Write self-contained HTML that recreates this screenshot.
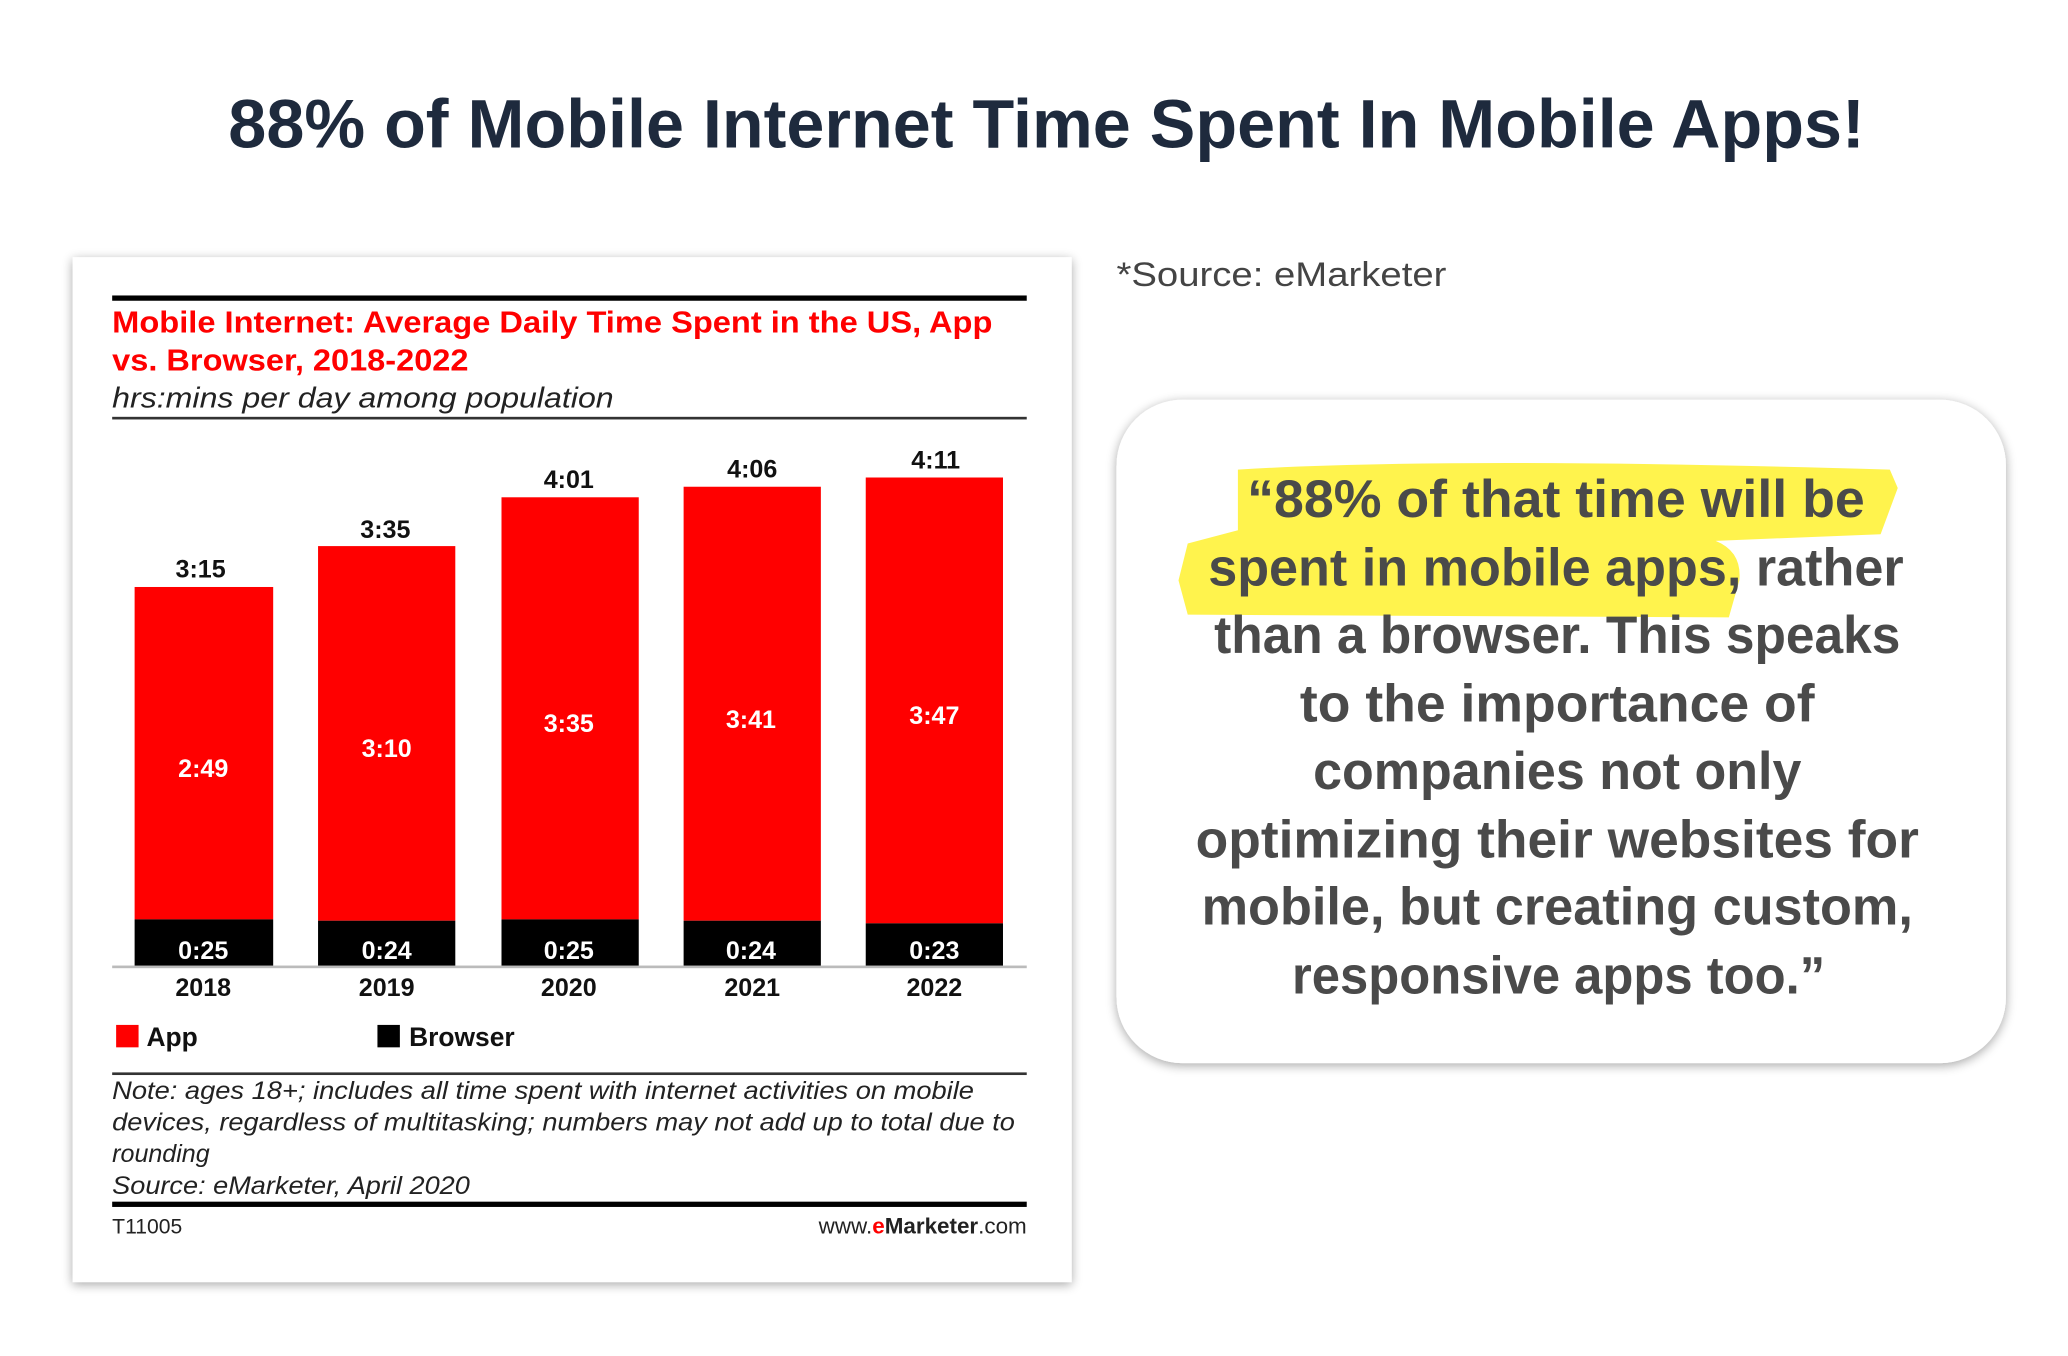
<!DOCTYPE html>
<html><head><meta charset="utf-8"><style>
html,body{margin:0;padding:0;background:#fff;width:2068px;height:1356px;overflow:hidden}
svg{display:block}
</style></head><body>
<svg width="2068" height="1356" viewBox="0 0 1567 1028" preserveAspectRatio="none" xmlns="http://www.w3.org/2000/svg">
<defs>
<filter id="sh" x="-10%" y="-10%" width="120%" height="120%"><feGaussianBlur in="SourceAlpha" stdDeviation="4"/><feOffset dx="0" dy="2"/><feComponentTransfer><feFuncA type="linear" slope="0.35"/></feComponentTransfer><feMerge><feMergeNode/><feMergeNode in="SourceGraphic"/></feMerge></filter>
</defs>
<rect width="1567" height="1028" fill="#fff"/>
<text x="793" y="112" text-anchor="middle" font-family="Liberation Sans, sans-serif" font-weight="bold" font-size="52" fill="#1e2a3d" textLength="1240" lengthAdjust="spacingAndGlyphs">88% of Mobile Internet Time Spent In Mobile Apps!</text>

<rect x="55" y="195" width="757" height="777" fill="#fff" filter="url(#sh)"/>
<rect x="85" y="224" width="693" height="4" fill="#000"/>
<g font-family="Liberation Sans, sans-serif">
<text x="85" y="252" font-weight="bold" font-size="23" fill="#ff0000" textLength="667" lengthAdjust="spacingAndGlyphs">Mobile Internet: Average Daily Time Spent in the US, App</text>
<text x="85" y="281" font-weight="bold" font-size="23" fill="#ff0000" textLength="270" lengthAdjust="spacingAndGlyphs">vs. Browser, 2018-2022</text>
<text x="85" y="309" font-style="italic" font-size="22" fill="#222" textLength="380" lengthAdjust="spacingAndGlyphs">hrs:mins per day among population</text>
<rect x="85" y="316" width="693" height="2" fill="#333"/>

<g fill="#ff0000">
<rect x="102" y="445" width="105" height="252"/>
<rect x="241" y="414" width="104" height="284"/>
<rect x="380" y="377" width="104" height="320"/>
<rect x="518" y="369" width="104" height="329"/>
<rect x="656" y="362" width="104" height="338"/>
</g>
<g fill="#000">
<rect x="102" y="697" width="105" height="36"/>
<rect x="241" y="698" width="104" height="35"/>
<rect x="380" y="697" width="104" height="36"/>
<rect x="518" y="698" width="104" height="35"/>
<rect x="656" y="700" width="104" height="33"/>
</g>
<rect x="85" y="732" width="693" height="2" fill="#bbb"/>
<g font-weight="bold" font-size="19" text-anchor="middle" fill="#111">
<text x="152" y="438">3:15</text><text x="292" y="408">3:35</text><text x="431" y="370">4:01</text><text x="570" y="362">4:06</text><text x="709" y="355">4:11</text>
<text x="154" y="755">2018</text><text x="293" y="755">2019</text><text x="431" y="755">2020</text><text x="570" y="755">2021</text><text x="708" y="755">2022</text>
</g>
<g font-weight="bold" font-size="19" text-anchor="middle" fill="#fff">
<text x="154" y="589">2:49</text><text x="293" y="574">3:10</text><text x="431" y="555">3:35</text><text x="569" y="552">3:41</text><text x="708" y="549">3:47</text>
<text x="154" y="727">0:25</text><text x="293" y="727">0:24</text><text x="431" y="727">0:25</text><text x="569" y="727">0:24</text><text x="708" y="727">0:23</text>
</g>
<rect x="88" y="777" width="17" height="17" fill="#ff0000"/>
<text x="111" y="793" font-weight="bold" font-size="20" fill="#111">App</text>
<rect x="286" y="777" width="17" height="17" fill="#000"/>
<text x="310" y="793" font-weight="bold" font-size="20" fill="#111">Browser</text>
<rect x="85" y="813" width="693" height="2" fill="#333"/>
<g font-style="italic" font-size="19" fill="#222">
<text x="85" y="833" textLength="653" lengthAdjust="spacingAndGlyphs">Note: ages 18+; includes all time spent with internet activities on mobile</text>
<text x="85" y="857" textLength="684" lengthAdjust="spacingAndGlyphs">devices, regardless of multitasking; numbers may not add up to total due to</text>
<text x="85" y="881">rounding</text>
<text x="85" y="905" textLength="271" lengthAdjust="spacingAndGlyphs">Source: eMarketer, April 2020</text>
</g>
<rect x="85" y="911" width="693" height="4" fill="#000"/>
<text x="85" y="935" font-size="16" fill="#222">T11005</text>
<text x="778" y="935" font-size="17" fill="#222" text-anchor="end">www.<tspan fill="#ff0000" font-weight="bold">e</tspan><tspan font-weight="bold">Marketer</tspan>.com</text>
</g>

<text x="846" y="217" font-family="Liberation Sans, sans-serif" font-size="26" fill="#444" textLength="250" lengthAdjust="spacingAndGlyphs">*Source: eMarketer</text>

<rect x="846" y="303" width="674" height="503" rx="50" fill="#fff" filter="url(#sh)"/>
<path d="M938 356 Q1100 346 1432 356 L1438 370 L1425 405 L1300 410 Q1320 418 1318 440 L1310 468 L900 466 L893 440 L900 412 L938 402 Z" fill="#fff23a" opacity="0.9"/>
<g font-family="Liberation Sans, sans-serif" font-weight="bold" font-size="40" fill="#4a4a4a" text-anchor="middle">
<text x="1179" y="392" textLength="468" lengthAdjust="spacingAndGlyphs">“88% of that time will be</text>
<text x="1179" y="444" textLength="527" lengthAdjust="spacingAndGlyphs">spent in mobile apps, rather</text>
<text x="1180" y="495" textLength="520" lengthAdjust="spacingAndGlyphs">than a browser. This speaks</text>
<text x="1180" y="547" textLength="390" lengthAdjust="spacingAndGlyphs">to the importance of</text>
<text x="1180" y="598" textLength="370" lengthAdjust="spacingAndGlyphs">companies not only</text>
<text x="1180" y="650" textLength="548" lengthAdjust="spacingAndGlyphs">optimizing their websites for</text>
<text x="1180" y="701" textLength="539" lengthAdjust="spacingAndGlyphs">mobile, but creating custom,</text>
<text x="1181" y="753" textLength="404" lengthAdjust="spacingAndGlyphs">responsive apps too.”</text>
</g>
</svg>
</body></html>
